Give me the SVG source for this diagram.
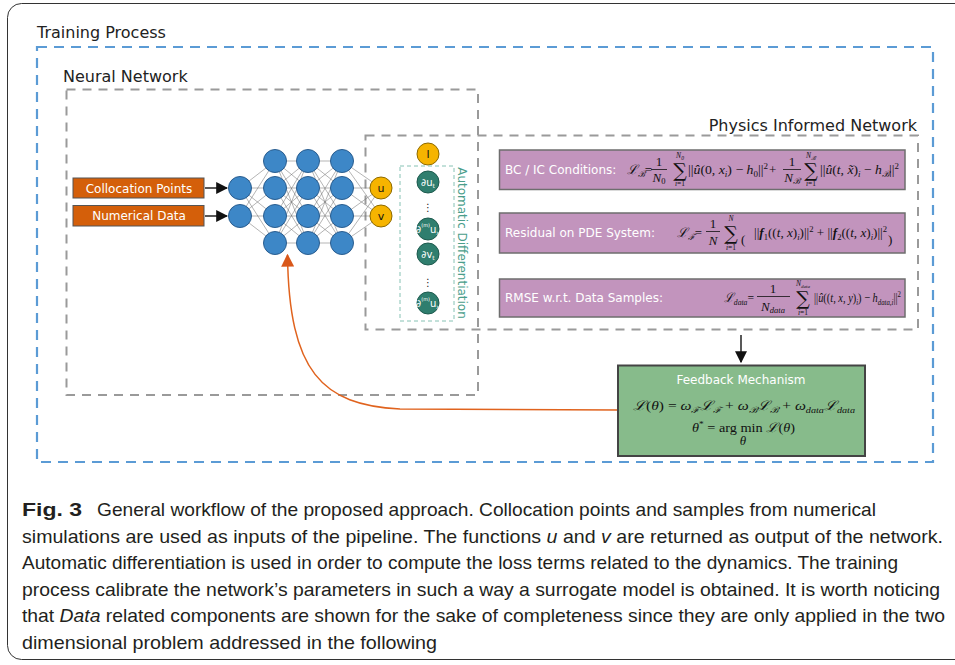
<svg xmlns="http://www.w3.org/2000/svg" width="955" height="665" viewBox="0 0 955 665">
<style>
.lbl{font-family:"DejaVu Sans",sans-serif;font-size:16px;fill:#222}
.bx{font-family:"DejaVu Sans",sans-serif;font-size:12px;fill:#fff}
.m{font-family:"Liberation Serif","DejaVu Serif",serif;font-style:italic;font-size:13px;fill:#111}
.n{font-style:normal}
.sb{font-size:8.5px}
.sum{font-family:"DejaVu Serif",serif;font-size:19px;fill:#111;text-anchor:middle}
.lim{font-family:"Liberation Serif",serif;font-style:italic;font-size:7.5px;fill:#111;text-anchor:middle}
.fl{stroke:#111;stroke-width:0.8}
.cap{font-family:"Liberation Sans",sans-serif;font-size:18.5px;fill:#231f20}
.blue{fill:#3d87c7;stroke:#2a5d8f;stroke-width:1}
.yel{fill:#f6b400;stroke:#8d6a00;stroke-width:1}
.teal{fill:#2f7e6e;stroke:#1e5a4e;stroke-width:1}
.nl{font-family:"DejaVu Sans",sans-serif;font-size:11px;fill:#111;text-anchor:middle}
.tl{font-family:"DejaVu Sans",sans-serif;font-size:10px;fill:#fff;text-anchor:middle}
.pur{fill:#c294bd;stroke:#6e6e6e;stroke-width:1.5}
.gdash{fill:none;stroke:#9a9a9a;stroke-width:2;stroke-dasharray:9 7}
</style>
<defs>
<marker id="ahb" viewBox="0 0 10 10" refX="9" refY="5" markerWidth="12" markerHeight="12" markerUnits="userSpaceOnUse" orient="auto"><path d="M0 0L10 5L0 10z" fill="#111"/></marker>
<marker id="aho" viewBox="0 0 10 10" refX="9" refY="5" markerWidth="13" markerHeight="13" markerUnits="userSpaceOnUse" orient="auto"><path d="M0 0L10 5L0 10z" fill="#d9581a"/></marker>
</defs>
<rect width="955" height="665" fill="#fff"/>
<rect x="7.5" y="3.5" width="965" height="656" rx="14" fill="none" stroke="#333" stroke-width="1"/>

<g id="training-process">
<text class="lbl" x="37" y="38">Training Process</text>
<rect x="37" y="47" width="896" height="415" fill="none" stroke="#5b9bd5" stroke-width="2.2" stroke-dasharray="10 7"/>
</g>
<g id="neural-network">
<text class="lbl" x="63" y="82">Neural Network</text>
<rect class="gdash" x="66.5" y="89.5" width="411.5" height="305.5"/>
</g>
<g id="physics-informed-network">
<text class="lbl" x="917" y="131" text-anchor="end">Physics Informed Network</text>
<rect class="gdash" x="365.5" y="135.5" width="552.5" height="194"/>
</g>

<g id="connectors">
<path fill="none" stroke="#6a6a6a" stroke-width="0.5" d="M240 188L275 161M240 188L275 188M240 188L275 216M240 188L275 243M240 216L275 161M240 216L275 188M240 216L275 216M240 216L275 243
M275 161L308 161M275 161L308 188M275 161L308 216M275 161L308 243M275 188L308 161M275 188L308 188M275 188L308 216M275 188L308 243M275 216L308 161M275 216L308 188M275 216L308 216M275 216L308 243M275 243L308 161M275 243L308 188M275 243L308 216M275 243L308 243
M308 161L342 161M308 161L342 188M308 161L342 216M308 161L342 243M308 188L342 161M308 188L342 188M308 188L342 216M308 188L342 243M308 216L342 161M308 216L342 188M308 216L342 216M308 216L342 243M308 243L342 161M308 243L342 188M308 243L342 216M308 243L342 243
M342 161L381 188M342 188L381 188M342 216L381 188M342 243L381 188M342 161L381 216M342 188L381 216M342 216L381 216M342 243L381 216"/>
<line x1="205" y1="188" x2="227" y2="188" stroke="#222" stroke-width="1.5" marker-end="url(#ahb)"/>
<line x1="205" y1="216" x2="227" y2="216" stroke="#222" stroke-width="1.5" marker-end="url(#ahb)"/>
<line x1="741" y1="335" x2="741" y2="362" stroke="#222" stroke-width="1.5" marker-end="url(#ahb)"/>
<path d="M618 410L400 409C322 405 289 372 287.5 255" fill="none" stroke="#e0631e" stroke-width="1.5" marker-end="url(#aho)"/>
</g>

<g id="input-collocation">
<rect x="73" y="178" width="131" height="20" fill="#d45f0a" stroke="#555" stroke-width="1"/>
<text class="bx" x="139" y="192.5" text-anchor="middle">Collocation Points</text>
</g>
<g id="input-numerical">
<rect x="73" y="205.5" width="131" height="20.5" fill="#d45f0a" stroke="#555" stroke-width="1"/>
<text class="bx" x="139" y="220" text-anchor="middle">Numerical Data</text>
</g>

<g id="input-layer">
<circle class="blue" cx="240" cy="188" r="11.5"/>
<circle class="blue" cx="240" cy="216" r="11.5"/>
</g>
<g id="hidden-layer-1">
<circle class="blue" cx="275" cy="161" r="11.5"/><circle class="blue" cx="275" cy="188" r="11.5"/><circle class="blue" cx="275" cy="216" r="11.5"/><circle class="blue" cx="275" cy="243" r="11.5"/>
</g>
<g id="hidden-layer-2">
<circle class="blue" cx="308" cy="161" r="11.5"/><circle class="blue" cx="308" cy="188" r="11.5"/><circle class="blue" cx="308" cy="216" r="11.5"/><circle class="blue" cx="308" cy="243" r="11.5"/>
</g>
<g id="hidden-layer-3">
<circle class="blue" cx="342" cy="161" r="11.5"/><circle class="blue" cx="342" cy="188" r="11.5"/><circle class="blue" cx="342" cy="216" r="11.5"/><circle class="blue" cx="342" cy="243" r="11.5"/>
</g>
<g id="output-u">
<circle class="yel" cx="381" cy="188" r="11"/>
<text class="nl" x="381" y="192">u</text>
</g>
<g id="output-v">
<circle class="yel" cx="381" cy="216" r="11"/>
<text class="nl" x="381" y="220">v</text>
</g>
<g id="output-l">
<circle class="yel" cx="428" cy="154" r="11"/>
<text class="nl" x="428" y="158">l</text>
</g>

<g id="automatic-differentiation">
<rect x="400" y="166" width="54" height="155" fill="none" stroke="#86c2b4" stroke-width="1" stroke-dasharray="4 3"/>
<text transform="translate(458 243) rotate(90)" text-anchor="middle" font-family="DejaVu Sans,sans-serif" font-size="12" fill="#4a9e8b">Automatic Differentiation</text>
<circle class="teal" cx="428" cy="182" r="11"/>
<text class="tl" x="428" y="185.5">∂u<tspan font-size="6" dy="2">t</tspan></text>
<text x="428" y="211" font-family="DejaVu Sans,sans-serif" font-size="10" fill="#222" text-anchor="middle">⋮</text>
<circle class="teal" cx="428" cy="229" r="11"/>
<text class="tl" x="428" y="233">∂<tspan font-size="5" dy="-6">(m)</tspan><tspan dy="6">u</tspan><tspan font-size="6" dy="2">x</tspan></text>
<circle class="teal" cx="428" cy="254" r="11"/>
<text class="tl" x="428" y="257.5">∂v<tspan font-size="6" dy="2">t</tspan></text>
<text x="428" y="286" font-family="DejaVu Sans,sans-serif" font-size="10" fill="#222" text-anchor="middle">⋮</text>
<circle class="teal" cx="428" cy="303" r="11"/>
<text class="tl" x="428" y="307">∂<tspan font-size="5" dy="-6">(m)</tspan><tspan dy="6">u</tspan><tspan font-size="6" dy="2">x</tspan></text>
</g>

<g id="bc-ic-conditions">
<rect class="pur" x="499.5" y="150" width="405.5" height="39.5"/>
<text class="bx" x="505" y="174">BC / IC Conditions:</text>
<text class="m" x="627" y="174" textLength="25" lengthAdjust="spacingAndGlyphs">ℒ<tspan class="sb" dy="3">ℬ</tspan><tspan class="n" dy="-3">=</tspan></text>
<text class="m n" x="659" y="166" text-anchor="middle">1</text>
<line class="fl" x1="651" y1="169.5" x2="667" y2="169.5"/>
<text class="m" x="659" y="182" text-anchor="middle">N<tspan class="sb n" dy="2">0</tspan></text>
<text class="sum" x="680" y="177">∑</text>
<text class="lim" x="680" y="158">N<tspan font-size="5.5" dy="1.5">0</tspan></text>
<text class="lim" x="680" y="186">i<tspan class="n">=1</tspan></text>
<text class="m" x="688" y="174" textLength="80" lengthAdjust="spacingAndGlyphs"><tspan class="n">||</tspan>û<tspan class="n">(0, </tspan>x<tspan class="sb" dy="2.5">i</tspan><tspan class="n" dy="-2.5">) − </tspan>h<tspan class="sb n" dy="2.5">0</tspan><tspan class="n" dy="-2.5">||</tspan><tspan class="sb n" dy="-5">2</tspan></text>
<text class="m n" x="769" y="174">+</text>
<text class="m n" x="792" y="166" text-anchor="middle">1</text>
<line class="fl" x1="783" y1="169.5" x2="801" y2="169.5"/>
<text class="m" x="792" y="182" text-anchor="middle">N<tspan class="sb" dy="2">ℬ</tspan></text>
<text class="sum" x="811" y="177">∑</text>
<text class="lim" x="811" y="158">N<tspan font-size="5.5" dy="1.5">ℬ</tspan></text>
<text class="lim" x="811" y="186">i<tspan class="n">=1</tspan></text>
<text class="m" x="820" y="174" textLength="79" lengthAdjust="spacingAndGlyphs"><tspan class="n">||</tspan>û<tspan class="n">(</tspan>t<tspan class="n">, </tspan>x̃<tspan class="n">)</tspan><tspan class="sb" dy="2.5">i</tspan><tspan class="n" dy="-2.5"> − </tspan>h<tspan class="sb" dy="2.5">ℬ</tspan><tspan class="n" dy="-2.5">||</tspan><tspan class="sb n" dy="-5">2</tspan></text>
</g>

<g id="residual-pde">
<rect class="pur" x="499.5" y="213" width="405.5" height="40"/>
<text class="bx" x="505" y="237">Residual on PDE System:</text>
<text class="m" x="677" y="237" textLength="25" lengthAdjust="spacingAndGlyphs">ℒ<tspan class="sb" dy="3">ℱ</tspan><tspan class="n" dy="-3">=</tspan></text>
<text class="m n" x="713" y="228" text-anchor="middle">1</text>
<line class="fl" x1="706" y1="231.5" x2="720" y2="231.5"/>
<text class="m" x="713" y="245" text-anchor="middle">N</text>
<text class="sum" x="731" y="240">∑</text>
<text class="lim" x="731" y="221">N</text>
<text class="lim" x="731" y="249.5">i<tspan class="n">=1</tspan></text>
<text class="m n" x="741" y="244" font-size="26" font-family="DejaVu Serif,serif">(</text>
<text class="m" x="754" y="237" textLength="133" lengthAdjust="spacingAndGlyphs"><tspan class="n">||</tspan><tspan font-weight="bold">f</tspan><tspan class="sb n" dy="2.5">1</tspan><tspan class="n" dy="-2.5">((</tspan>t<tspan class="n">, </tspan>x<tspan class="n">)</tspan><tspan class="sb" dy="2.5">i</tspan><tspan class="n" dy="-2.5">)||</tspan><tspan class="sb n" dy="-5">2</tspan><tspan class="n" dy="5"> + ||</tspan><tspan font-weight="bold">f</tspan><tspan class="sb n" dy="2.5">2</tspan><tspan class="n" dy="-2.5">((</tspan>t<tspan class="n">, </tspan>x<tspan class="n">)</tspan><tspan class="sb" dy="2.5">i</tspan><tspan class="n" dy="-2.5">)||</tspan><tspan class="sb n" dy="-5">2</tspan></text>
<text class="m n" x="888" y="244" font-size="26" font-family="DejaVu Serif,serif">)</text>
</g>

<g id="rmse-data">
<rect class="pur" x="499.5" y="279" width="405.5" height="38"/>
<text class="bx" x="505" y="302">RMSE w.r.t. Data Samples:</text>
<text class="m" x="724" y="302" textLength="30" lengthAdjust="spacingAndGlyphs">ℒ<tspan class="sb" dy="3">data</tspan><tspan class="n" dy="-3">=</tspan></text>
<text class="m n" x="773" y="293" text-anchor="middle">1</text>
<line class="fl" x1="757" y1="296.5" x2="790" y2="296.5"/>
<text class="m" x="773" y="310.5" text-anchor="middle">N<tspan class="sb" dy="2">data</tspan></text>
<text class="sum" x="803" y="305">∑</text>
<text class="lim" x="803" y="286">N<tspan font-size="5" dy="1.5">data</tspan></text>
<text class="lim" x="803" y="314.5">i<tspan class="n">=1</tspan></text>
<text class="m" x="814" y="302" textLength="87" lengthAdjust="spacingAndGlyphs"><tspan class="n">||</tspan>û<tspan class="n">((</tspan>t<tspan class="n">, </tspan>x<tspan class="n">, </tspan>y<tspan class="n">)</tspan><tspan class="sb" dy="2.5">i</tspan><tspan class="n" dy="-2.5">) − </tspan>h<tspan class="sb" dy="2.5">data,i</tspan><tspan class="n" dy="-2.5">||</tspan><tspan class="sb n" dy="-5">2</tspan></text>
</g>

<g id="feedback-mechanism">
<rect x="618" y="365.5" width="247" height="90.5" fill="#87bb8b" stroke="#444" stroke-width="2"/>
<text class="bx" x="741" y="384" text-anchor="middle">Feedback Mechanism</text>
<text class="m" x="633" y="410" font-size="15" textLength="222" lengthAdjust="spacingAndGlyphs">ℒ<tspan class="n">(</tspan>θ<tspan class="n">) = </tspan>ω<tspan class="sb" dy="3">ℱ</tspan><tspan dy="-3">ℒ</tspan><tspan class="sb" dy="3">ℱ</tspan><tspan class="n" dy="-3">  +  </tspan>ω<tspan class="sb" dy="3">ℬ</tspan><tspan dy="-3">ℒ</tspan><tspan class="sb" dy="3">ℬ</tspan><tspan class="n" dy="-3">  +  </tspan>ω<tspan class="sb" dy="3">data</tspan><tspan dy="-3">ℒ</tspan><tspan class="sb" dy="3">data</tspan></text>
<text class="m" x="692" y="432" font-size="15" textLength="103" lengthAdjust="spacingAndGlyphs">θ<tspan class="sb n" dy="-5">*</tspan><tspan class="n" dy="5"> = arg min </tspan>ℒ<tspan class="n">(</tspan>θ<tspan class="n">)</tspan></text>
<text class="m" x="743" y="445" font-size="8" text-anchor="middle">θ</text>
</g>

<g id="caption">
<text class="cap" x="22" y="516" font-weight="bold" textLength="60" lengthAdjust="spacingAndGlyphs">Fig. 3</text>
<text class="cap" x="97" y="516" textLength="779" lengthAdjust="spacingAndGlyphs">General workflow of the proposed approach. Collocation points and samples from numerical</text>
<text class="cap" x="22" y="542.5" textLength="921" lengthAdjust="spacingAndGlyphs">simulations are used as inputs of the pipeline. The functions <tspan font-style="italic">u</tspan> and <tspan font-style="italic">v</tspan> are returned as output of the network.</text>
<text class="cap" x="22" y="569" textLength="876" lengthAdjust="spacingAndGlyphs">Automatic differentiation is used in order to compute the loss terms related to the dynamics. The training</text>
<text class="cap" x="22" y="595.5" textLength="918" lengthAdjust="spacingAndGlyphs">process calibrate the network’s parameters in such a way a surrogate model is obtained. It is worth noticing</text>
<text class="cap" x="22" y="622" textLength="923" lengthAdjust="spacingAndGlyphs">that <tspan font-style="italic">Data</tspan> related components are shown for the sake of completeness since they are only applied in the two</text>
<text class="cap" x="22" y="648.5" textLength="415" lengthAdjust="spacingAndGlyphs">dimensional problem addressed in the following</text>
</g>
</svg>
